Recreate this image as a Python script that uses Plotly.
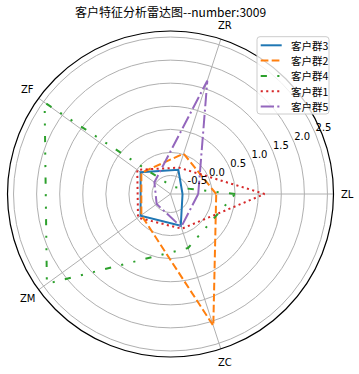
import math
import plotly.graph_objects as go

categories = ["ZL", "ZR", "ZF", "ZM", "ZC"]
group_names = ["客户群3", "客户群2", "客户群4", "客户群1", "客户群5"]
g3 = [-0.64, -0.35, -0.10, -0.10, -0.18]
g2 = [0.09, 0.02, -0.12, -0.12, 2.10]
g4 = [0.50, -0.74, 2.47, 2.41, 0.33]
g1 = [1.14, -0.30, -0.01, -0.03, -0.11]
g5 = [-0.30, 1.68, -0.47, -0.53, -0.15]
series = [g3, g2, g4, g1, g5]
radial_ticks = [-0.5, 0.0, 0.5, 1.0, 1.5, 2.0, 2.5]
title_text = "客户特征分析雷达图--number:3009"

colors = ["#1f77b4", "#ff7f0e", "#2ca02c", "#d62728", "#9467bd"]
dashes = ["solid", "7.7px,3.3px", "6.2px,10.4px,2.1px,10.4px,2.1px,10.4px",
          "2.1px,3.4px", "13.3px,3.3px,2.1px,3.3px"]

FONT = "Noto Sans CJK SC, DejaVu Sans, sans-serif"
W, H = 359, 374

n = len(categories)
angles = [i * 360.0 / n for i in range(n)]

allv = [v for s in series for v in s]
lo, hi = min(allv), max(allv)
span = hi - lo
rng = [lo - 0.05 * span, hi + 0.05 * span]

# polar area (pixels)
PX0, PX1, PY0, PY1 = 7.5, 333.5, 31, 357

fig = go.Figure()
for name, vals, c, d in zip(group_names, series, colors, dashes):
    fig.add_trace(go.Scatterpolar(
        r=vals + vals[:1],
        theta=angles + angles[:1],
        mode="lines",
        name=name,
        line=dict(color=c, width=2, dash=d),
        showlegend=False,
    ))

# radial tick labels placed along the 22.5 degree ray, like matplotlib
fig.add_trace(go.Scatterpolar(
    r=radial_ticks,
    theta=[22.5] * len(radial_ticks),
    mode="text",
    text=["%.1f" % v for v in radial_ticks],
    textposition="top right",
    textfont=dict(size=10, family="DejaVu Sans", color="black"),
    showlegend=False,
    hoverinfo="skip",
))

fig.update_layout(
    width=W, height=H,
    margin=dict(l=0, r=0, t=0, b=0),
    paper_bgcolor="white",
    font=dict(family=FONT, color="black"),
    showlegend=False,
    title=dict(text=title_text, x=0.475, xanchor="center", y=1 - 12.5 / H, yanchor="middle",
               font=dict(size=12, family=FONT, color="black")),
    polar=dict(
        domain=dict(x=[PX0 / W, PX1 / W], y=[1 - PY1 / H, 1 - PY0 / H]),
        bgcolor="white",
        angularaxis=dict(
            tickmode="array", tickvals=angles,
            rotation=0, direction="counterclockwise",
            showline=True, linecolor="black", linewidth=1.2,
            gridcolor="#b0b0b0", gridwidth=0.8,
            ticks="", showticklabels=False,
        ),
        radialaxis=dict(
            range=rng,
            tickvals=radial_ticks,
            showticklabels=False,
            angle=22.5,
            showline=False, ticks="",
            gridcolor="#b0b0b0", gridwidth=0.8,
        ),
    ),
)

def px(x):
    return x / W

def py(y):
    return 1 - y / H

# angular (category) labels just outside the outer circle, like matplotlib thetagrids
cx, cy = (PX0 + PX1) / 2, (PY0 + PY1) / 2
R = (PX1 - PX0) / 2
for lab, a in zip(categories, angles):
    t = math.radians(a)
    lx = cx + (R + 14) * math.cos(t)
    ly = cy - (R + 14) * math.sin(t)
    fig.add_annotation(x=px(lx), y=py(ly), xref="paper", yref="paper",
                       text=lab, showarrow=False, xanchor="center", yanchor="middle",
                       font=dict(size=10, family="DejaVu Sans", color="black"))

# matplotlib-style legend box drawn on top (shapes + annotations)
bx0, bx1, by0, by1 = 257, 329, 36.7, 114
rad = 3
path = (
    f"M {px(bx0 + rad)},{py(by0)} L {px(bx1 - rad)},{py(by0)} "
    f"Q {px(bx1)},{py(by0)} {px(bx1)},{py(by0 + rad)} "
    f"L {px(bx1)},{py(by1 - rad)} Q {px(bx1)},{py(by1)} {px(bx1 - rad)},{py(by1)} "
    f"L {px(bx0 + rad)},{py(by1)} Q {px(bx0)},{py(by1)} {px(bx0)},{py(by1 - rad)} "
    f"L {px(bx0)},{py(by0 + rad)} Q {px(bx0)},{py(by0)} {px(bx0 + rad)},{py(by0)} Z"
)
fig.add_shape(type="path", path=path, xref="paper", yref="paper",
              fillcolor="rgba(255,255,255,0.8)", line=dict(color="#cccccc", width=1),
              layer="above")

row0, dy = 45.3, 15.3
for i, (name, c, d) in enumerate(zip(group_names, colors, dashes)):
    yy = row0 + i * dy
    fig.add_shape(type="line", xref="paper", yref="paper",
                  x0=px(260.7), x1=px(281.7), y0=py(yy), y1=py(yy),
                  line=dict(color=c, width=2, dash=d), layer="above")
    fig.add_annotation(x=px(289), y=py(yy), xref="paper", yref="paper",
                       text=name, showarrow=False, xanchor="left", yanchor="middle",
                       font=dict(size=10.5, family=FONT, color="black"))

fig.write_html(
    "out.html",
    config={"displayModeBar": False},
    post_script="document.body.style.margin='0';document.body.style.overflow='hidden';",
)
